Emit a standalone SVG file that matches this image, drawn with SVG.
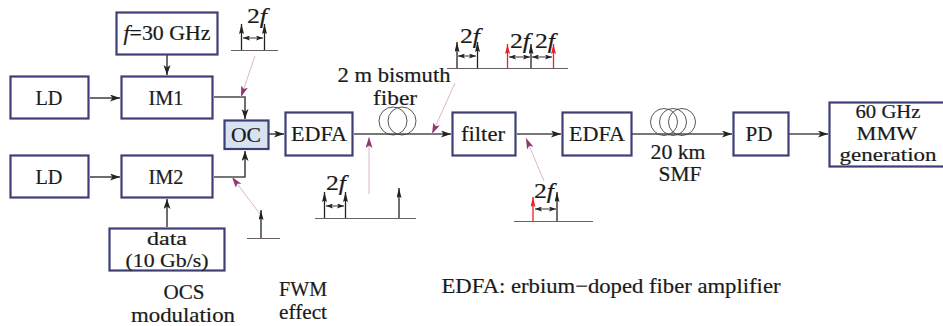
<svg xmlns="http://www.w3.org/2000/svg" width="943" height="326" viewBox="0 0 943 326">
<style>
.b{fill:#fff;stroke:#3f3f78;stroke-width:2.2}
.t{font-family:"Liberation Serif",serif;font-size:21px;fill:#1a1a1a;text-anchor:middle;stroke:#1a1a1a;stroke-width:.2}
.s{font-size:18.5px}
.i{font-style:italic}
.c{fill:none;stroke:#4a4a4a;stroke-width:1.6}
.a{marker-end:url(#ah)}
.base{fill:none;stroke:#6a6060;stroke-width:1.2}
.sp{fill:none;stroke:#222;stroke-width:1.3;marker-end:url(#sh)}
.rd{fill:none;stroke:#f0202a;stroke-width:1.3;marker-end:url(#rh)}
.dbl{fill:none;stroke:#333;stroke-width:1;marker-start:url(#dl);marker-end:url(#dh)}
.pk{fill:none;stroke:#dfb6c8;stroke-width:1;marker-end:url(#ph)}
.coil{fill:none;stroke:#444;stroke-width:.9}
</style>
<defs>
<marker id="ah" markerUnits="userSpaceOnUse" markerWidth="11" markerHeight="8" refX="10" refY="3.500" orient="auto"><path d="M0 0L10 3.500L0 7L2.500 3.500Z" fill="#222"/></marker>
<marker id="sh" markerUnits="userSpaceOnUse" markerWidth="11" markerHeight="6" refX="10" refY="2.500" orient="auto"><path d="M0 0L10 2.500L0 5L1.500 2.500Z" fill="#222"/></marker>
<marker id="rh" markerUnits="userSpaceOnUse" markerWidth="11" markerHeight="6" refX="10" refY="2.500" orient="auto"><path d="M0 0L10 2.500L0 5L1.500 2.500Z" fill="#f0202a"/></marker>
<marker id="dh" markerUnits="userSpaceOnUse" markerWidth="8" markerHeight="6" refX="7" refY="2.500" orient="auto"><path d="M0 0L7 2.500L0 5L1.500 2.500Z" fill="#222"/></marker>
<marker id="dl" markerUnits="userSpaceOnUse" markerWidth="8" markerHeight="6" refX="0" refY="2.500" orient="auto"><path d="M7 0L0 2.500L7 5L5.500 2.500Z" fill="#222"/></marker>
<marker id="ph" markerUnits="userSpaceOnUse" markerWidth="13" markerHeight="10" refX="11" refY="3.500" orient="auto"><path d="M0 0L11 3.500L0 7L2.500 3.500Z" fill="#8e3a6e"/></marker>
</defs>
<g id="connectors">
<path class="c a" d="M167 55V75"/>
<path class="c a" d="M90 98H120"/>
<path class="c a" d="M90 177H120"/>
<path class="c a" d="M214 97H245V119"/>
<path class="c a" d="M214 177H245V151"/>
<path class="c a" d="M167 227V199"/>
<path class="c a" d="M269 134H284"/>
<path class="c a" d="M354 134H451"/>
<path class="c a" d="M517 134H561"/>
<path class="c a" d="M632 134H732"/>
<path class="c a" d="M789 134H828"/>
<path class="pk" d="M255 56L241 97"/>
<path class="pk" d="M260 214L232 177"/>
<path class="pk" d="M369 194V137"/>
<path class="pk" d="M455 83L432 134"/>
<path class="pk" d="M544 181L526 138"/>
</g>
<g id="coil-bismuth"><circle class="coil" cx="393" cy="121" r="14"/><circle class="coil" cx="402" cy="121" r="14"/></g>
<g id="coil-smf"><circle class="coil" cx="664" cy="122" r="13.500"/><circle class="coil" cx="673" cy="122" r="13.500"/><circle class="coil" cx="682" cy="122" r="13.500"/></g>
<g id="node-f"><rect class="b" x="116.500" y="12.500" width="101" height="42"/><text class="t" x="167" y="40" textLength="87" lengthAdjust="spacingAndGlyphs"><tspan class="i">f</tspan>=30 GHz</text></g>
<g id="node-ld1"><rect class="b" x="10.500" y="76.500" width="78" height="42"/><text class="t" x="49" y="105" textLength="27" lengthAdjust="spacingAndGlyphs">LD</text></g>
<g id="node-im1"><rect class="b" x="121.500" y="76.500" width="91" height="42"/><text class="t" x="166" y="105" textLength="35" lengthAdjust="spacingAndGlyphs">IM1</text></g>
<g id="node-oc"><rect class="b" x="224.500" y="120.500" width="44" height="28.500" style="fill:#d9e2f1"/><text class="t" x="246" y="142" textLength="30" lengthAdjust="spacingAndGlyphs">OC</text></g>
<g id="node-edfa1"><rect class="b" x="285.500" y="112.500" width="67" height="43"/><text class="t" x="319" y="141" textLength="56" lengthAdjust="spacingAndGlyphs">EDFA</text></g>
<g id="node-ld2"><rect class="b" x="10.500" y="155.500" width="78" height="42"/><text class="t" x="49" y="184" textLength="27" lengthAdjust="spacingAndGlyphs">LD</text></g>
<g id="node-im2"><rect class="b" x="121.500" y="155.500" width="91" height="42"/><text class="t" x="166" y="184" textLength="35" lengthAdjust="spacingAndGlyphs">IM2</text></g>
<g id="node-data"><rect class="b" x="109.500" y="228.500" width="115" height="42"/><text class="t s" x="167" y="245" textLength="40" lengthAdjust="spacingAndGlyphs">data</text><text class="t s" x="167" y="266.500" textLength="83" lengthAdjust="spacingAndGlyphs">(10 Gb/s)</text></g>
<g id="node-filter"><rect class="b" x="452.500" y="112.500" width="63" height="43"/><text class="t" x="483" y="141" textLength="44" lengthAdjust="spacingAndGlyphs">filter</text></g>
<g id="node-edfa2"><rect class="b" x="562.500" y="112.500" width="69" height="43"/><text class="t" x="597" y="141" textLength="56" lengthAdjust="spacingAndGlyphs">EDFA</text></g>
<g id="node-pd"><rect class="b" x="733.500" y="112.500" width="55" height="43"/><text class="t" x="759" y="141" textLength="27" lengthAdjust="spacingAndGlyphs">PD</text></g>
<g id="node-mmw"><rect class="b" x="829.500" y="102.500" width="116" height="64"/><text class="t s" x="888" y="118" textLength="65" lengthAdjust="spacingAndGlyphs">60 GHz</text><text class="t s" x="887" y="139.500" textLength="61" lengthAdjust="spacingAndGlyphs">MMW</text><text class="t s" x="888" y="161" textLength="97" lengthAdjust="spacingAndGlyphs">generation</text></g>
<g id="labels">
<text class="t" x="394" y="82" textLength="113" lengthAdjust="spacingAndGlyphs">2 m bismuth</text>
<text class="t" x="395" y="105" textLength="44" lengthAdjust="spacingAndGlyphs">fiber</text>
<text class="t" x="678" y="159" textLength="55" lengthAdjust="spacingAndGlyphs">20 km</text>
<text class="t" x="680" y="181" textLength="43" lengthAdjust="spacingAndGlyphs">SMF</text>
<text class="t" x="184" y="299" textLength="41" lengthAdjust="spacingAndGlyphs">OCS</text>
<text class="t" x="183" y="322" textLength="104" lengthAdjust="spacingAndGlyphs">modulation</text>
<text class="t" x="303" y="296" textLength="48" lengthAdjust="spacingAndGlyphs">FWM</text>
<text class="t" x="303" y="319" textLength="48" lengthAdjust="spacingAndGlyphs">effect</text>
<text class="t" x="611" y="293" textLength="339" lengthAdjust="spacingAndGlyphs">EDFA: erbium−doped fiber amplifier</text>
</g>
<g id="spectrum-1">
<path class="base" d="M231 50.500H278"/><path class="sp" d="M241.500 50V24"/><path class="sp" d="M264.500 50V24"/><path class="dbl" d="M243 38H263"/>
<text class="t" x="257" y="23" textLength="20" lengthAdjust="spacingAndGlyphs">2<tspan class="i">f</tspan></text>
</g>
<g id="spectrum-2">
<path class="base" d="M247 238.500H280"/><path class="sp" d="M261 238V210"/>
</g>
<g id="spectrum-3">
<path class="base" d="M315 218.500H416"/><path class="sp" d="M324.500 218V192"/><path class="sp" d="M345.500 218V192"/><path class="sp" d="M399 218V188"/><path class="dbl" d="M326 206H344"/>
<text class="t" x="336" y="190" textLength="20" lengthAdjust="spacingAndGlyphs">2<tspan class="i">f</tspan></text>
</g>
<g id="spectrum-4">
<path class="base" d="M447 68.500H568"/><path class="sp" d="M457 68V42"/><path class="sp" d="M477.500 68V42"/><path class="rd" d="M507.500 68V44"/><path class="sp" d="M531 68V44"/><path class="rd" d="M553.500 68V44"/><path class="dbl" d="M458 56H476"/><path class="dbl" d="M509 57H530"/><path class="dbl" d="M532 57H552"/>
<text class="t" x="470" y="43" textLength="20" lengthAdjust="spacingAndGlyphs">2<tspan class="i">f</tspan></text>
<text class="t" x="520" y="48" textLength="20" lengthAdjust="spacingAndGlyphs">2<tspan class="i">f</tspan></text>
<text class="t" x="545" y="48" textLength="20" lengthAdjust="spacingAndGlyphs">2<tspan class="i">f</tspan></text>
</g>
<g id="spectrum-5">
<path class="base" d="M514 221.500H593"/><path class="rd" d="M533 221V197"/><path class="sp" d="M557 221V192"/><path class="dbl" d="M535 209H556"/>
<text class="t" x="544" y="198" textLength="20" lengthAdjust="spacingAndGlyphs">2<tspan class="i">f</tspan></text>
</g>
</svg>
